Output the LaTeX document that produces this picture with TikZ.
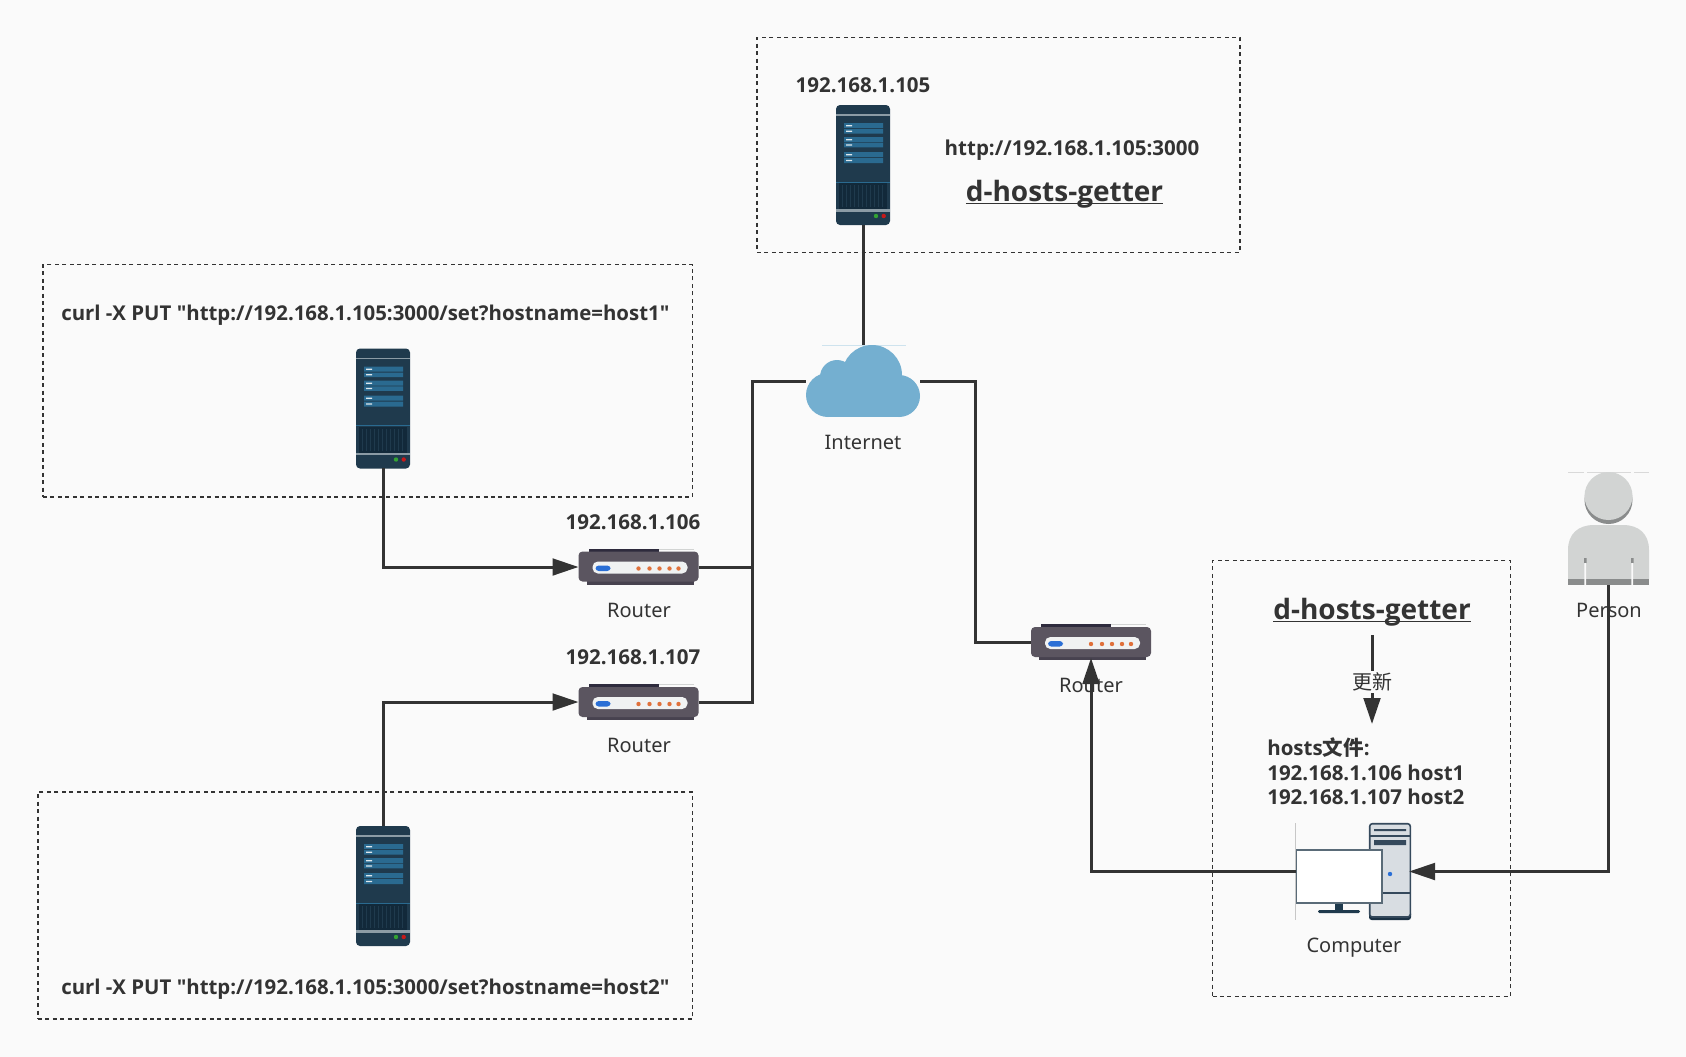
\documentclass[tikz,border=0pt]{standalone}
\usepackage{fontspec}
\setmainfont{Noto Sans}
\newfontfamily\cjk{Noto Sans CJK SC}
\newfontfamily\boldfam{Open Sans}
\usetikzlibrary{arrows.meta}
\definecolor{ink}{HTML}{333333}
\definecolor{bgc}{HTML}{FAFAFA}
\definecolor{srvbody}{HTML}{1F3A4D}
\definecolor{srvpanel}{HTML}{2A6A90}
\definecolor{srvgrill}{HTML}{12293A}
\definecolor{srvband}{HTML}{8B9BA5}
\definecolor{rtbody}{HTML}{5B5560}
\definecolor{rtdark}{HTML}{2E2B3D}
\definecolor{rtlow}{HTML}{47424F}
\definecolor{rtpanel}{HTML}{F0F2F2}
\definecolor{rtblue}{HTML}{2A6FD6}
\definecolor{rtdot}{HTML}{E0703A}
\definecolor{cloudc}{HTML}{74AFD0}
\definecolor{pclight}{HTML}{D8DDE2}
\definecolor{pcdark}{HTML}{35495C}
\definecolor{pclow}{HTML}{1C3245}
\definecolor{pscreen}{HTML}{5A6B78}
\definecolor{perlight}{HTML}{D2D4D3}
\definecolor{perdark}{HTML}{8A8C8C}
\tikzset{
  anchorbox/.style 2 args={inner sep=0pt,outer sep=0pt,minimum width=#1*0.75pt,minimum height=#2*0.75pt},
  dashbox/.style={draw=ink,line width=0.85pt,dash pattern=on 3pt off 2.6pt},
  wire/.style={draw=ink,line width=2.25pt},
  arrowwire/.style={wire,-{Triangle[length=19.5pt,width=12.5pt]}},
  boldlabel/.style={inner sep=0pt,text=ink,font=\boldfam\fontsize{15.4pt}{18.4pt}\selectfont\bfseries},
  curllabel/.style={inner sep=0pt,text=ink,font=\boldfam\fontsize{15.3pt}{18.4pt}\selectfont\bfseries},
  biglabel/.style={inner sep=0pt,anchor=base,text=ink,font=\boldfam\fontsize{21pt}{25pt}\selectfont\bfseries},
  plainlabel/.style={inner sep=0pt,text=ink,font=\fontsize{15pt}{18pt}\selectfont},
  pics/servericon/.style={code={
    \fill[srvbody,rounded corners=3] (0,0) rectangle (54,120);
    \fill[srvband] (0,9) rectangle (54,10.6);
    \fill[srvpanel] (8,18) rectangle (47,23) (8,24) rectangle (47,28.5)
                    (8,32) rectangle (47,37) (8,37.8) rectangle (47,42.3)
                    (8,47) rectangle (47,52) (8,53) rectangle (47,58);
    \fill[white!85!srvpanel] (10,20) rectangle (16,21.3) (10,25.6) rectangle (16,26.9)
                    (10,34) rectangle (16,35.3) (10,39.4) rectangle (16,40.7)
                    (10,49) rectangle (16,50.3) (10,54.8) rectangle (16,56.1);
    \fill[srvpanel] (0,76.6) rectangle (54,77.6);
    \fill[srvgrill] (3,78) rectangle (51,104);
    \foreach \gx in {6,10,14,18,22,26,30,34,38,42,46}
      \draw[srvbody,line width=0.4pt] (\gx,80) -- (\gx,102);
    \fill[srvband] (0,104) rectangle (54,106.5);
    \fill[green!55!black!80!white] (40,111) circle[radius=2.2];
    \fill[red!75!black!90!white] (47.7,111) circle[radius=2.2];
  }},
  pics/routericon/.style={code={
    \draw[perlight,line width=0.4pt] (80,0.5) -- (115,0.5);
    \fill[rtdark] (10,0) rectangle (80,4);
    \fill[rtlow] (8,30) rectangle (115,36);
    \fill[rtbody,rounded corners=3] (0,3) rectangle (120,33);
    \fill[rtpanel,rounded corners=4] (14,13) rectangle (109,25);
    \fill[rtblue,rounded corners=2.4] (17,17) rectangle (32,22.5);
    \foreach \dx in {60,71,81,91,100} \fill[rtdot] (\dx,20) circle[radius=2.2];
  }},
  pics/cloudicon/.style={code={
    \draw[cloudc!35!white,line width=0.4pt] (16,0) -- (100,0);
    \fill[cloudc] (66,30) circle[radius=30];
    \fill[cloudc] (31,32) circle[radius=17];
    \fill[cloudc] (22,50) circle[radius=22];
    \fill[cloudc] (93,51) circle[radius=21];
    \fill[cloudc] (22,38) rectangle (93,72);
  }},
  pics/computericon/.style={code={
    \draw[black!22,line width=0.5pt] (-0.5,0) -- (-0.5,97);
    \fill[pclow,rounded corners=2] (73,88) rectangle (115,97);
    \draw[pcdark,fill=pclight,line width=1.2pt,rounded corners=2] (73.7,0.7) rectangle (114.3,94);
    \draw[pcdark,line width=0.8pt] (73,13) -- (115,13) (73,70) -- (115,70);
    \fill[pcdark] (78,6) rectangle (110,8.2) (78,17) rectangle (110,22);
    \fill[rtblue] (94,51) circle[radius=2.2];
    \fill[srvbody] (39,80) rectangle (47,88);
    \fill[srvbody,rounded corners=1] (22,87) rectangle (64,90);
    \draw[pscreen,fill=white,line width=1.1pt] (0.7,27) rectangle (86,80);
  }},
  pics/personicon/.style={code={
    \draw[black!15,line width=0.4pt] (0,0) -- (16,0) (19,0) -- (63,0) (66,0) -- (81,0);
    \fill[perdark] (40.5,28) circle[radius=24];
    \fill[perlight] (40.5,24) circle[radius=24];
    \fill[perlight] (0,107) -- (0,78) .. controls (0,62) and (10,53) .. (26,53) -- (55,53) .. controls (71,53) and (81,62) .. (81,78) -- (81,107) -- cycle;
    \fill[perdark] (0,107) rectangle (81,113);
    \fill[perdark] (16,86) rectangle (18.5,91) (63,86) rectangle (65.5,91);
    \fill[bgc] (16.3,91) rectangle (18.2,113) (63.3,91) rectangle (65.2,113);
  }}
}
\newcommand{\lowline}[1]{\underline{\smash{#1}}}
\begin{document}
\begin{tikzpicture}[x=0.75pt,y=-0.75pt]
\fill[bgc] (0,0) rectangle (1686,1057);
\useasboundingbox (0,0) rectangle (1686,1057);

% dashed frames
\node[dashbox,anchorbox={483}{215}] (frametop) at (998.5,145) {};
\node[dashbox,anchorbox={649.5}{232.5}] (frameone) at (367.75,380.75) {};
\node[dashbox,anchorbox={654.5}{227}] (frametwo) at (365.25,905.5) {};
\node[dashbox,anchorbox={298}{436}] (frameright) at (1361.5,778.5) {};

% icons
\pic at (836,105) {servericon};
\pic at (356,348.5) {servericon};
\pic at (356,826) {servericon};
\pic at (578.5,548.5) {routericon};
\pic at (578.5,684) {routericon};
\pic at (1031,624) {routericon};
\pic at (806,345) {cloudicon};
\pic at (1296,823) {computericon};
\pic at (1568,472) {personicon};

% anchor nodes for the icons
\node[anchorbox={54}{120}] (servertop) at (863,165) {};
\node[anchorbox={54}{120}] (serverone) at (383,408) {};
\node[anchorbox={54}{120}] (servertwo) at (383,886) {};
\node[anchorbox={120}{36}] (routerone) at (638.5,567) {};
\node[anchorbox={120}{36}] (routertwo) at (638.5,702) {};
\node[anchorbox={120}{36}] (routerthree) at (1091,642) {};
\node[anchorbox={114}{72}] (cloud) at (863,381) {};
\node[anchorbox={115}{97}] (computer) at (1353.5,871.5) {};
\node[anchorbox={81}{113}] (person) at (1608.5,528.5) {};

% labels
\node[boldlabel] (iptop) at (863,85) {192.168.1.105};
\node[boldlabel] (urltop) at (1072,150.5) {http://192.168.1.105:3000};
\node[biglabel] (apptop) at (1064.5,201.5) {\lowline{d-hosts-getter}};
\node[curllabel,anchor=west] (curlone) at (61,315) {curl -X PUT "http://192.168.1.105:3000/set?hostname=host1"};
\node[curllabel,anchor=west] (curltwo) at (61,989) {curl -X PUT "http://192.168.1.105:3000/set?hostname=host2"};
\node[boldlabel] (ipone) at (633,522.5) {192.168.1.106};
\node[boldlabel] (iptwo) at (633,657) {192.168.1.107};
\node[plainlabel] (labone) at (639,610) {Router};
\node[plainlabel] (labtwo) at (639,745) {Router};
\node[plainlabel] (labthree) at (1091,685) {Router};
\node[plainlabel] (labcloud) at (863,442) {Internet};
\node[biglabel] (appright) at (1372,619) {\lowline{d-hosts-getter}};
\node[boldlabel,anchor=west,align=left] (hostsfile) at (1267,771.5) {hosts{\cjk 文件}:\\192.168.1.106 host1\\192.168.1.107 host2};
\node[plainlabel] (labcomp) at (1354,948) {Computer};
\node[plainlabel] (labperson) at (1609,610) {Person};

% connectors
\coordinate (busleft) at (752,381);
\coordinate (busright) at (975,381);
\coordinate (updstart) at (1372,635);
\coordinate (updend) at (1372,724);
\draw[wire] (servertop.south) -- (cloud.north);
\draw[wire] (routerone.east) -| (busleft) -- (cloud.west);
\draw[wire] (routertwo.east) -| (busleft);
\draw[wire] (cloud.east) -- (busright) |- (routerthree.west);
\draw[arrowwire] (serverone.south) |- (routerone.west);
\draw[arrowwire] (servertwo.north) |- (routertwo.west);
\draw[arrowwire,shorten >=-1.5pt] (computer.west) -| (routerthree.south);
\draw[arrowwire,shorten >=-1.5pt] (person.south) |- (computer.east);
\draw[arrowwire] (updstart) -- (updend) node[pos=0.53,fill=bgc,inner sep=1.5pt,text=ink,font=\cjk\fontsize{15pt}{18pt}\selectfont] (labupd) {更新};
\end{tikzpicture}
\end{document}
